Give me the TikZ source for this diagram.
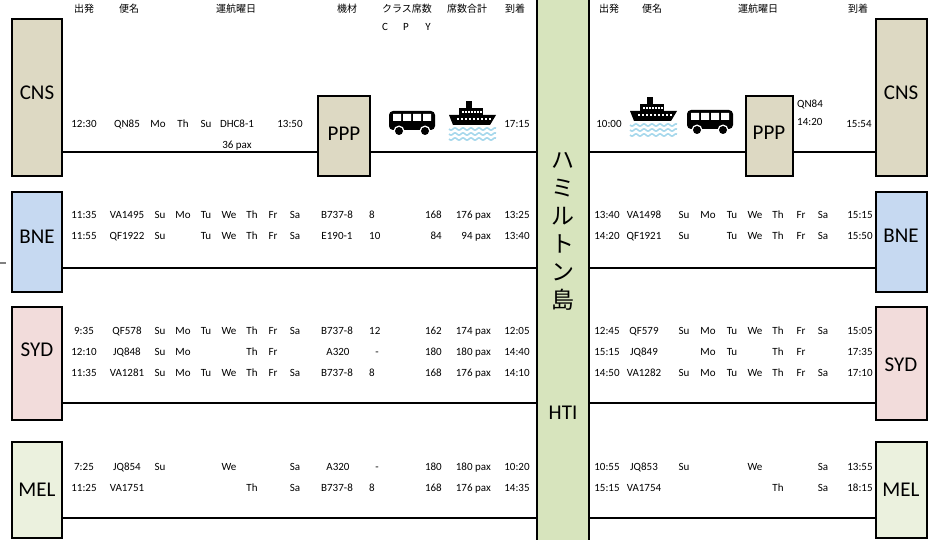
\documentclass[tikz,border=0pt]{standalone}
\usepackage{fontspec}
\setmainfont{Carlito}
\newfontfamily\jpfont{Noto Sans CJK JP}
\definecolor{tanF}{HTML}{DDD9C3}
\definecolor{blueF}{HTML}{C6D9F1}
\definecolor{pinkF}{HTML}{F2DCDB}
\definecolor{lgF}{HTML}{EBF1DE}
\definecolor{htiF}{HTML}{D7E4BD}
\definecolor{waveC}{HTML}{A6D8EC}
\newcommand\myBus[1]{%
\begin{scope}[shift={#1}]
\fill[black, rounded corners=4pt] (0,0) rectangle (46,19);
\fill[white] (4,3) rectangle (12,10) (14,3) rectangle (22,10) (24,3) rectangle (32,10) (34,3) rectangle (42,10);
\fill[white] (10,20) circle (5.5pt) (36,20) circle (5.5pt);
\fill[black] (10,20) circle (4pt) (36,20) circle (4pt);
\end{scope}}
\newcommand\myShip[1]{%
\begin{scope}[shift={#1}]
\fill[black] (17,0) rectangle (23,7);
\fill[black] (10,7) rectangle (34,14);
\foreach \d in {13,16,...,31} \fill[white] (\d,10) rectangle ++(1.6,1.6);
\fill[black] (0,14) -- (47,14) -- (41,24) -- (4,24) -- cycle;
\foreach \d in {8,12,...,40} \fill[white] (\d,17.5) rectangle ++(2,2);
\foreach \w in {28,33,38}
  \draw[waveC, line width=1.6pt] plot[domain=0:47, samples=48, smooth] (\x,{\w+1.1*sin(\x*45)});
\end{scope}}
\begin{document}
\begin{tikzpicture}[x=1pt,y=-1pt,
  box/.style={draw=black, line width=2.2pt, inner sep=0pt, outer sep=0pt, anchor=north west},
  lab/.style={font=\fontsize{21}{21}\selectfont, inner sep=0pt},
  vj/.style={font=\jpfont\fontsize{23}{23}\selectfont, inner sep=0pt},
  t/.style={font=\fontsize{11}{12}\selectfont, inner sep=0pt, text height=7pt, text depth=2pt},
  hd/.style={font=\jpfont\fontsize{10}{11}\selectfont, inner sep=0pt},
  conn/.style={line width=2pt}]
\fill[white] (0,0) rectangle (934,540);
\useasboundingbox (0,0) rectangle (934,540);

% boxes
\node[box, fill=htiF, minimum width=52pt, minimum height=570pt] (hti) at (537,-15) {};
\node[box, fill=tanF, minimum width=50pt, minimum height=157pt] (cnsL) at (12,19) {};
\node[box, fill=tanF, minimum width=52pt, minimum height=80pt] (pppL) at (318,96) {};
\node[box, fill=blueF, minimum width=50pt, minimum height=100pt] (bneL) at (12,192) {};
\node[box, fill=pinkF, minimum width=50pt, minimum height=113pt] (sydL) at (12,307) {};
\node[box, fill=lgF, minimum width=50pt, minimum height=96pt] (melL) at (12,442) {};
\node[box, fill=tanF, minimum width=51pt, minimum height=157pt] (cnsR) at (876,19) {};
\node[box, fill=tanF, minimum width=47pt, minimum height=80pt] (pppR) at (746,96) {};
\node[box, fill=blueF, minimum width=51pt, minimum height=100pt] (bneR) at (876,192) {};
\node[box, fill=pinkF, minimum width=51pt, minimum height=113pt] (sydR) at (876,307) {};
\node[box, fill=lgF, minimum width=51pt, minimum height=96pt] (melR) at (876,442) {};

% connector levels
\coordinate (y1) at (0,152);
\coordinate (y2) at (0,268);
\coordinate (y3) at (0,403);
\coordinate (y4) at (0,518);
\coordinate (stubA) at (0,263);
\coordinate (stubB) at (6,263);
\draw[conn] (cnsL.east |- y1) -- (pppL.west |- y1);
\draw[conn] (pppL.east |- y1) -- (hti.west |- y1);
\draw[conn] (hti.east |- y1) -- (pppR.west |- y1);
\draw[conn] (pppR.east |- y1) -- (cnsR.west |- y1);
\draw[conn] (bneL.east |- y2) -- (hti.west |- y2);
\draw[conn] (hti.east |- y2) -- (bneR.west |- y2);
\draw[conn] (sydL.east |- y3) -- (hti.west |- y3);
\draw[conn] (hti.east |- y3) -- (sydR.west |- y3);
\draw[conn] (melL.east |- y4) -- (hti.west |- y4);
\draw[conn] (hti.east |- y4) -- (melR.west |- y4);
\draw[gray, line width=1.8pt] (stubA) -- (stubB);

% big labels
\node[lab] (lcnsL) at (37,93) {CNS};
\node[lab] (lcnsR) at (901,93) {CNS};
\node[lab] (lpppL) at (344,134) {PPP};
\node[lab] (lpppR) at (769,133) {PPP};
\node[lab] (lbneL) at (37,237) {BNE};
\node[lab] (lbneR) at (901,236) {BNE};
\node[lab] (lsydL) at (37,350) {SYD};
\node[lab] (lsydR) at (901,365) {SYD};
\node[lab] (lmelL) at (37,490) {MEL};
\node[lab] (lmelR) at (901,490) {MEL};
\node[lab] (lhti) at (563,413) {HTI};
\foreach \c/\y [count=\i] in {ハ/160,ミ/188,ル/216,ト/244,ン/272,島/300}
  \node[vj] (v\i) at (563,\y) {\c};

% headers
\foreach \s/\x [count=\i] in {出発/84,便名/129,運航曜日/236,機材/347,クラス席数/407,席数合計/467,到着/515,出発/609,便名/652,運航曜日/758,到着/858}
  \node[hd] (h\i) at (\x,9) {\s};
\foreach \s/\x [count=\i] in {C/385,P/406,Y/428}
  \node[t] (cpy\i) at (\x,28) {\s};

% icons
\myBus{(389,111)}
\myShip{(449,101)}
\myShip{(630,97)}
\myBus{(687,110)}

% CNS rows
\foreach \s/\x [count=\i] in {12:30/84,QN85/127,Mo/158,Th/183,Su/206,DHC8-1/237,13:50/290,17:15/517}
  \node[t] (ca\i) at (\x,125) {\s};
\node[t] (cpax) at (237,146) {36 pax};
\node[t] (cr1) at (609,125) {10:00};
\node[t, anchor=west] (cr2) at (797,105) {QN84};
\node[t, anchor=west] (cr3) at (797,123) {14:20};
\node[t] (cr4) at (859,125) {15:54};

% BNE left
\foreach \s/\x [count=\i] in {11:35/84,VA1495/127,Su/160,Mo/183,Tu/206,We/229,Th/252,Fr/273,Sa/295,B737-8/337,13:25/517}
  \node[t] (ba\i) at (\x,216) {\s};
\node[t, anchor=west] (bac) at (369,216) {8};
\node[t, anchor=east] (bay) at (442,216) {168};
\node[t, anchor=east] (bat) at (491,216) {176 pax};
\foreach \s/\x [count=\i] in {11:55/84,QF1922/127,Su/160,Tu/206,We/229,Th/252,Fr/273,Sa/295,E190-1/337,13:40/517}
  \node[t] (bb\i) at (\x,237) {\s};
\node[t, anchor=west] (bbc) at (369,237) {10};
\node[t, anchor=east] (bby) at (442,237) {84};
\node[t, anchor=east] (bbt) at (491,237) {94 pax};
% BNE right
\foreach \s/\x [count=\i] in {13:40/607,VA1498/644,Su/684,Mo/708,Tu/732,We/755,Th/778,Fr/801,Sa/823,15:15/860}
  \node[t] (bra\i) at (\x,216) {\s};
\foreach \s/\x [count=\i] in {14:20/607,QF1921/644,Su/684,Tu/732,We/755,Th/778,Fr/801,Sa/823,15:50/860}
  \node[t] (brb\i) at (\x,237) {\s};

% SYD left
\foreach \s/\x [count=\i] in {9:35/84,QF578/127,Su/160,Mo/183,Tu/206,We/229,Th/252,Fr/273,Sa/295,B737-8/337,12:05/517}
  \node[t] (sa\i) at (\x,332) {\s};
\node[t, anchor=west] (sac) at (369,332) {12};
\node[t, anchor=east] (say) at (442,332) {162};
\node[t, anchor=east] (sat) at (491,332) {174 pax};
\foreach \s/\x [count=\i] in {12:10/84,JQ848/127,Su/160,Mo/183,Th/252,Fr/273,A320/338,-/377,14:40/517}
  \node[t] (sb\i) at (\x,353) {\s};
\node[t, anchor=east] (sby) at (442,353) {180};
\node[t, anchor=east] (sbt) at (491,353) {180 pax};
\foreach \s/\x [count=\i] in {11:35/84,VA1281/127,Su/160,Mo/183,Tu/206,We/229,Th/252,Fr/273,Sa/295,B737-8/337,14:10/517}
  \node[t] (sc\i) at (\x,374) {\s};
\node[t, anchor=west] (scc) at (369,374) {8};
\node[t, anchor=east] (scy) at (442,374) {168};
\node[t, anchor=east] (sct) at (491,374) {176 pax};
% SYD right
\foreach \s/\x [count=\i] in {12:45/607,QF579/644,Su/684,Mo/708,Tu/732,We/755,Th/778,Fr/801,Sa/823,15:05/860}
  \node[t] (sra\i) at (\x,332) {\s};
\foreach \s/\x [count=\i] in {15:15/607,JQ849/644,Mo/708,Tu/732,Th/778,Fr/801,17:35/860}
  \node[t] (srb\i) at (\x,353) {\s};
\foreach \s/\x [count=\i] in {14:50/607,VA1282/644,Su/684,Mo/708,Tu/732,We/755,Th/778,Fr/801,Sa/823,17:10/860}
  \node[t] (src\i) at (\x,374) {\s};

% MEL left
\foreach \s/\x [count=\i] in {7:25/84,JQ854/127,Su/160,We/229,Sa/295,A320/338,-/377,10:20/517}
  \node[t] (ma\i) at (\x,468) {\s};
\node[t, anchor=east] (may) at (442,468) {180};
\node[t, anchor=east] (mat) at (491,468) {180 pax};
\foreach \s/\x [count=\i] in {11:25/84,VA1751/127,Th/252,Sa/295,B737-8/337,14:35/517}
  \node[t] (mb\i) at (\x,489) {\s};
\node[t, anchor=west] (mbc) at (369,489) {8};
\node[t, anchor=east] (mby) at (442,489) {168};
\node[t, anchor=east] (mbt) at (491,489) {176 pax};
% MEL right
\foreach \s/\x [count=\i] in {10:55/607,JQ853/644,Su/684,We/755,Sa/823,13:55/860}
  \node[t] (mra\i) at (\x,468) {\s};
\foreach \s/\x [count=\i] in {15:15/607,VA1754/644,Th/778,Sa/823,18:15/860}
  \node[t] (mrb\i) at (\x,489) {\s};
\end{tikzpicture}
\end{document}
